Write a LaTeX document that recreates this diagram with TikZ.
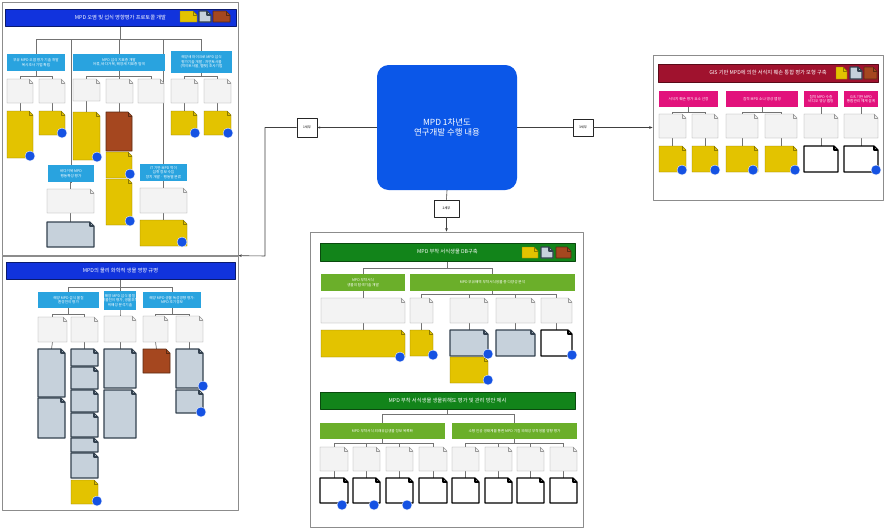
\documentclass[tikz,border=0pt]{standalone}
\usepackage{fontspec}
\setmainfont{Noto Sans CJK KR}
\usetikzlibrary{fit,backgrounds,arrows.meta}

\definecolor{hdrblue}{HTML}{1133DD}
\definecolor{hdrline}{HTML}{0A1A6E}
\definecolor{subblue}{HTML}{29A3DF}
\definecolor{ctrblue}{HTML}{0B57E8}
\definecolor{hdrgreen}{HTML}{12841A}
\definecolor{grnline}{HTML}{0A4A0E}
\definecolor{subgreen}{HTML}{6BAF2A}
\definecolor{hdrred}{HTML}{A0122E}
\definecolor{redline}{HTML}{5A0A18}
\definecolor{submag}{HTML}{E2127C}
\definecolor{docfill}{HTML}{F3F3F3}
\definecolor{docline}{HTML}{9A9A9A}
\definecolor{yel}{HTML}{E3C300}
\definecolor{yelline}{HTML}{8C7A00}
\definecolor{brn}{HTML}{A5471F}
\definecolor{brnline}{HTML}{5B2A12}
\definecolor{gbl}{HTML}{C6D1DB}
\definecolor{gblline}{HTML}{33414F}
\definecolor{badgeblue}{HTML}{1552E3}

% box with text: style, name, x1, y1, x2, y2, text
\newcommand\bx[7]{\node[fit={(#3,#4) (#5,#6)},inner sep=0pt,#1,label={[#1 txt]center:{#7}}] (#2) {};}
% document box with folded corner: style, name, x1, y1, x2, y2
\newcommand\dc[6]{%
  \node[fit={(#3,#4) (#5,#6)},inner sep=0pt] (#2) {};
  \draw[#1] (#3,#4) -- (#5-4,#4) -- (#5,#4+4) -- (#5,#6) -- (#3,#6) -- cycle;
  \draw[#1,fill=none] (#5-4,#4) -- (#5-4,#4+4) -- (#5,#4+4);}

\begin{document}
\begin{tikzpicture}[x=0.03cm,y=-0.03cm,line join=round,
	panel/.style={draw=black!45,line width=0.6pt},
	panel txt/.style={},
	hdr/.style={fill=hdrblue,draw=hdrline,line width=0.8pt},
	hdr txt/.style={text=white,font=\fontsize{4.5}{5.5}\selectfont},
	hdrg/.style={fill=hdrgreen,draw=grnline,line width=0.8pt},
	hdrg txt/.style={hdr txt},
	hdrr/.style={fill=hdrred,draw=redline,line width=0.8pt},
	hdrr txt/.style={hdr txt},
	sub/.style={fill=subblue},
	sub txt/.style={text=white,align=center,font=\fontsize{3.1}{3.8}\selectfont},
	subg/.style={fill=subgreen},
	subg txt/.style={sub txt},
	subm/.style={fill=submag},
	subm txt/.style={sub txt},
	ctr/.style={fill=ctrblue,rounded corners=10pt},
	ctr txt/.style={text=white,align=center,font=\fontsize{7.2}{9}\selectfont},
	tag/.style={draw=black!85,fill=white,line width=0.5pt},
	tag txt/.style={font=\fontsize{2.8}{3}\selectfont},
	doc/.style={fill=docfill,draw=docline,line width=0.4pt},
	ydoc/.style={fill=yel,draw=yelline,line width=0.4pt},
	bdoc/.style={fill=brn,draw=brnline,line width=0.5pt},
	gdoc/.style={fill=gbl,draw=gblline,line width=0.9pt},
	wdoc/.style={fill=white,draw=black,line width=1pt},
	badge/.style={circle,fill=badgeblue,draw=white,line width=0.3pt,minimum size=0.3cm,inner sep=0pt},
	tree/.style={draw=black!55,line width=0.6pt},
	link/.style={draw=black!75,line width=0.5pt}]
\useasboundingbox (0,0) rectangle (884,530);

% ---- center
\bx{ctr}{cM}{377}{65}{517}{190}{MPD 1차년도\\연구개발 수행 내용}
\bx{tag}{k1}{297}{118}{317}{137}{1세부}
\bx{tag}{k2}{434}{200}{459}{217}{2세부}
\bx{tag}{k3}{573}{119}{593}{136}{3세부}

% ---- 1세부 (upper)
\bx{panel}{pA}{2}{2}{238}{255}{}
\bx{hdr}{hA}{5}{9}{236}{26}{MPD 오염 및 섭식 영향평가 프로토콜 개발}
\dc{ydoc}{lA1}{180}{11}{197}{22}
\dc{gdoc}{lA2}{199}{11}{211}{22}
\dc{bdoc}{lA3}{213}{11}{230}{22}
\bx{sub}{sA1}{7}{54}{65}{71}{부유 MPD 오염 평가 기술 개발\\목시조사 기법 확립}
\bx{sub}{sA2}{73}{54}{165}{71}{MPD 섭식 지표종 개발\\어류, 바다거북, 해양새 지표종 탐색}
\bx{sub}{sA3}{171}{51}{232}{73}{해양새 마이크로 MPD 섭식\\평가기술 개발 : 자연토사물\\(먹이토사물, 펠렛) 조사기법}
\dc{doc}{dA1}{7}{79}{33}{103}
\dc{doc}{dA2}{39}{79}{65}{103}
\dc{doc}{dA3}{73}{79}{100}{101}
\dc{doc}{dA4}{106}{79}{133}{103}
\dc{doc}{dA5}{138}{79}{164}{103}
\dc{doc}{dA6}{171}{79}{198}{103}
\dc{doc}{dA7}{204}{79}{231}{103}
\dc{ydoc}{yA1}{7}{111}{33}{158}
\dc{ydoc}{yA2}{39}{111}{65}{135}
\dc{ydoc}{yA3}{73}{112}{100}{160}
\dc{bdoc}{brA}{106}{112}{132}{151}
\dc{ydoc}{yA4}{106}{152}{132}{178}
\dc{ydoc}{yA5}{106}{179}{132}{225}
\dc{ydoc}{yA6}{171}{111}{197}{135}
\dc{ydoc}{yA7}{204}{111}{231}{135}
\bx{sub}{tA}{48}{165}{94}{182}{바다거북 MPD\\행동특성 평가}
\dc{doc}{dA8}{47}{189}{94}{213}
\dc{gdoc}{gA1}{47}{222}{94}{247}
\bx{sub}{uA}{140}{164}{187}{181}{IT 기반 MPD 먹이\\섭취 정보 수집\\장치 개발 · 행동별 분류}
\dc{doc}{dA9}{140}{188}{187}{213}
\dc{ydoc}{yA8}{140}{220}{187}{246}

% ---- 1세부 (lower)
\bx{panel}{pB}{2}{256}{238}{510}{}
\bx{hdr}{hB}{6}{262}{235}{279}{MPD의 물리 화학적 생물 영향 규명}
\bx{sub}{sB1}{38}{292}{99}{308}{해양 MPD 섭식 물질\\환경전이 평가}
\bx{sub}{sB2}{104}{291}{136}{310}{해양 MPD 섭식 물질\\생물전이 평가, 생물조직\\위해성 분석기술}
\bx{sub}{sB3}{143}{292}{201}{308}{해양 MPD 생물 독성영향 평가:\\MPD 조기경보}
\dc{doc}{dB1}{38}{317}{67}{342}
\dc{doc}{dB2}{71}{317}{98}{342}
\dc{doc}{dB3}{104}{316}{136}{342}
\dc{doc}{dB4}{143}{316}{168}{342}
\dc{doc}{dB5}{176}{316}{203}{342}
\dc{gdoc}{gB1}{38}{349}{65}{397}
\dc{gdoc}{gB2}{38}{398}{65}{438}
\dc{gdoc}{gB3}{71}{349}{98}{366}
\dc{gdoc}{gB4}{71}{367}{98}{389}
\dc{gdoc}{gB5}{71}{390}{98}{412}
\dc{gdoc}{gB6}{71}{413}{98}{437}
\dc{gdoc}{gB7}{71}{438}{98}{452}
\dc{gdoc}{gB8}{71}{453}{98}{478}
\dc{ydoc}{yB1}{71}{480}{98}{504}
\dc{gdoc}{gB9}{104}{349}{136}{388}
\dc{gdoc}{gB10}{104}{390}{136}{438}
\dc{bdoc}{brB}{143}{349}{170}{373}
\dc{gdoc}{gB11}{176}{349}{203}{388}
\dc{gdoc}{gB12}{176}{390}{203}{413}

% ---- 2세부
\bx{panel}{pD}{310}{232}{583}{527}{}
\bx{hdrg}{hD1}{320}{243}{575}{261}{MPD 부착 서식생물 DB구축}
\dc{ydoc}{lD1}{522}{247}{538}{258}
\dc{gdoc}{lD2}{541}{247}{553}{258}
\dc{bdoc}{lD3}{556}{247}{571}{258}
\bx{subg}{sD1}{321}{274}{405}{291}{MPD 부착서식\\생물의 탐색기술 개발}
\bx{subg}{sD2}{410}{274}{575}{291}{MPD 부유해역 부착서식생물 종 다양성 분석}
\dc{doc}{dD1}{321}{298}{405}{323}
\dc{doc}{dD2}{410}{298}{433}{323}
\dc{doc}{dD3}{450}{298}{488}{323}
\dc{doc}{dD4}{496}{298}{535}{323}
\dc{doc}{dD5}{541}{298}{572}{323}
\dc{ydoc}{yD1}{321}{330}{405}{357}
\dc{ydoc}{yD2}{410}{330}{433}{356}
\dc{gdoc}{gD1}{450}{330}{488}{356}
\dc{ydoc}{yD3}{450}{357}{488}{383}
\dc{gdoc}{gD2}{496}{330}{535}{356}
\dc{wdoc}{wD1}{541}{330}{572}{356}
\bx{hdrg}{hD2}{320}{392}{575}{409}{MPD 부착 서식생물 생물위해도 평가 및 관리 방안 제시}
\bx{subg}{sD3}{320}{423}{445}{439}{MPD 부착서식 외래유입생물 정보 목록화}
\bx{subg}{sD4}{452}{423}{577}{439}{소형 인공 생태계를 통한 MPD 기질 외래성 부착생물 영향 평가}
\foreach \a/\b [count=\i] in {320/348,353/380,386/413,419/447,452/479,485/512,517/544,550/577}
	{\dc{doc}{eD\i}{\a}{447}{\b}{471}
	 \dc{wdoc}{fD\i}{\a}{478}{\b}{503}}

% ---- 3세부
\bx{panel}{pR}{653}{55}{883}{200}{}
\bx{hdrr}{hR}{658}{64}{878}{82}{GIS 기반 MPD에 의한 서식지 훼손 통합 평가 모형 구축}
\dc{ydoc}{lR1}{836}{67}{847}{79}
\dc{gdoc}{lR2}{850}{67}{862}{79}
\dc{bdoc}{lR3}{864}{67}{877}{79}
\bx{subm}{sR1}{659}{91}{718}{107}{서식지 훼손 평가 요소 선정}
\bx{subm}{sR2}{726}{91}{798}{107}{침적 MPD 소나 영상 맵핑}
\bx{subm}{sR3}{804}{91}{838}{107}{침적 MPD 수중\\비디오 영상 맵핑}
\bx{subm}{sR4}{844}{91}{878}{107}{GIS 기반 MPD\\통합관리 체계 설계}
\foreach \a/\b [count=\i] in {659/686,692/718,726/758,765/797,804/838,844/878}
	{\dc{doc}{dR\i}{\a}{114}{\b}{138}}
\foreach \a/\b [count=\i] in {659/686,692/718,726/758,765/797}
	{\dc{ydoc}{yR\i}{\a}{146}{\b}{172}}
\dc{wdoc}{wR1}{804}{146}{838}{172}
\dc{wdoc}{wR2}{844}{146}{878}{172}

% ---- badges
\foreach \X [count=\Y] in {(30,156),(62,133),(97,157),(130,174),(130,221),(195,133),(228,133),(182,242),
	(97,501),(203,386),(201,412),
	(400,357),(433,355),(488,354),(488,380),(572,355),(342,505),(374,505),(407,505),
	(682,170),(715,170),(753,170),(795,170),(876,170)}
	{\node[badge] (b\Y) at \X {};}

% ---- connectors
\coordinate (jA) at (0,39);  \coordinate (jA1) at (0,76);
\coordinate (jB) at (0,287); \coordinate (jB1) at (0,314);
\coordinate (jD) at (0,268); \coordinate (jD1) at (0,294);
\coordinate (jD2) at (0,414); \coordinate (jD3) at (0,443);
\coordinate (jR1) at (0,112);
\coordinate (t1) at (265,256);
\begin{scope}[on background layer]
\fill[white] (0,0) rectangle (884,530);
\foreach \c in {sA1,sA2,sA3,tA,uA} {\draw[tree] (hA.south) -- (hA.south |- jA) -| (\c.north);}
\foreach \p/\c in {sA1/dA1,sA1/dA2,sA2/dA3,sA2/dA4,sA2/dA5,sA3/dA6,sA3/dA7}
	{\draw[tree] (\p.south) -- (\p.south |- jA1) -| (\c.north);}
\foreach \p/\c in {dA1/yA1,dA2/yA2,dA3/yA3,dA4/brA,dA6/yA6,dA7/yA7,tA/dA8,dA8/gA1,uA/dA9,dA9/yA8}
	{\draw[tree] (\p.south) -- (\p.south -| \c.north) -- (\c.north);}
\foreach \c in {sB1,sB2,sB3} {\draw[tree] (hB.south) -- (hB.south |- jB) -| (\c.north);}
\foreach \p/\c in {sB1/dB1,sB1/dB2,sB2/dB3,sB3/dB4,sB3/dB5}
	{\draw[tree] (\p.south) -- (\p.south |- jB1) -| (\c.north);}
\foreach \p/\c in {dB1/gB1,dB2/gB3,dB3/gB9,dB4/brB,dB5/gB11}
	{\draw[tree] (\p.south) -- (\c.north);}
\foreach \c in {sD1,sD2} {\draw[tree] (hD1.south) -- (hD1.south |- jD) -| (\c.north);}
\foreach \c in {dD2,dD3,dD4,dD5} {\draw[tree] (sD2.south) -- (sD2.south |- jD1) -| (\c.north);}
\foreach \p/\c in {sD1/dD1,dD1/yD1,dD2/yD2,dD3/gD1,dD4/gD2,dD5/wD1}
	{\draw[tree] (\p.south) -- (\c.north);}
\foreach \c in {sD3,sD4} {\draw[tree] (hD2.south) -- (hD2.south |- jD2) -| (\c.north);}
\foreach \i in {1,...,4} {\draw[tree] (sD3.south) -- (sD3.south |- jD3) -| (eD\i.north);}
\foreach \i in {5,...,8} {\draw[tree] (sD4.south) -- (sD4.south |- jD3) -| (eD\i.north);}
\foreach \i in {1,...,8} {\draw[tree] (eD\i.south) -- (fD\i.north);}
\foreach \c in {dR1,dR2} {\draw[tree] (sR1.south) -- (sR1.south |- jR1) -| (\c.north);}
\foreach \c in {dR3,dR4} {\draw[tree] (sR2.south) -- (sR2.south |- jR1) -| (\c.north);}
\draw[tree] (sR3.south) -- (dR5.north);
\draw[tree] (sR4.south) -- (dR6.north);
\foreach \i in {1,...,4} {\draw[tree] (dR\i.south) -- (yR\i.north);}
\draw[tree] (dR5.south) -- (wR1.north);
\draw[tree] (dR6.south) -- (wR2.north);
\end{scope}
\draw[link,-{Stealth[length=2.5pt]}] (cM.west) -- (k1.east);
\draw[link,-{Stealth[length=3pt]}] (k1.west) -| (t1) -- (pB.north east);
\draw[link] (cM.east) -- (k3.west);
\draw[link,-{Stealth[length=3pt]}] (k3.east) -- (pR.west);
\draw[link] (cM.south) -- (k2.north);
\draw[link,-{Stealth[length=3pt]}] (k2.south) -- (pD.north);
\end{tikzpicture}
\end{document}
